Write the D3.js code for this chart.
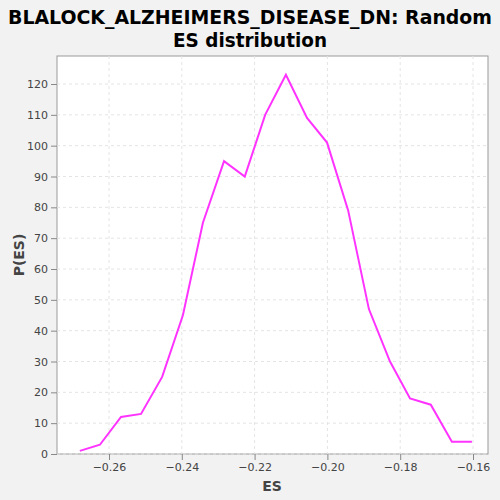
<!DOCTYPE html>
<html><head><meta charset="utf-8">
<script src="https://cdn.jsdelivr.net/npm/d3@7"></script>
<style>body{margin:0;background:#f2f2f2}</style></head>
<body><svg id="c" width="500" height="500"></svg>
<script>
const esValues=[-0.268,-0.2625,-0.2567,-0.2512,-0.2454,-0.2397,-0.2342,-0.2284,-0.2227,-0.2171,-0.2114,-0.2056,-0.2001,-0.1943,-0.1886,-0.1828,-0.1773,-0.1716,-0.1658,-0.1603];
const pValues=[1,3,12,13,25,45,75,95,90,110,123,109,101,79,47,30,18,16,4,4];
const xTicks=[-0.26,-0.24,-0.22,-0.20,-0.18,-0.16];
const yTicks=[0,10,20,30,40,50,60,70,80,90,100,110,120];
const svg=d3.select("#c");
const L=57,R=488,T=56,B=454;
const x=d3.scaleLinear().domain([-0.26,-0.16]).range([109,473]);
const y=d3.scaleLinear().domain([0,120]).range([454,84]);
svg.append("rect").attr("x",L).attr("y",T).attr("width",R-L).attr("height",B-T).attr("fill","#fff").attr("stroke","#999");
const g=svg.append("g");
xTicks.forEach(t=>g.append("line").attr("x1",x(t)).attr("x2",x(t)).attr("y1",T).attr("y2",B).attr("stroke","#e4e4e4").attr("stroke-dasharray","3,3"));
yTicks.forEach(t=>g.append("line").attr("x1",L).attr("x2",R).attr("y1",y(t)).attr("y2",y(t)).attr("stroke","#e4e4e4").attr("stroke-dasharray","3,3"));
svg.append("g").attr("transform",`translate(0,${B})`).call(d3.axisBottom(x).tickValues(xTicks).tickFormat(d3.format(".2f")).tickSizeOuter(0))
 .call(a=>{a.select(".domain").remove();a.selectAll("text").attr("font-size",11).attr("font-family","DejaVu Sans").attr("fill","#444");a.selectAll("line").attr("stroke","#888");});
svg.append("g").attr("transform",`translate(${L},0)`).call(d3.axisLeft(y).tickValues(yTicks).tickSizeOuter(0))
 .call(a=>{a.select(".domain").remove();a.selectAll("text").attr("font-size",11).attr("font-family","DejaVu Sans").attr("fill","#444");a.selectAll("line").attr("stroke","#888");});
svg.append("path").datum(esValues.map((e,i)=>[e,pValues[i]])).attr("fill","none").attr("stroke","#ff33ff").attr("stroke-width",2)
 .attr("d",d3.line().x(d=>x(d[0])).y(d=>y(d[1])));
const tt=svg.append("text").attr("text-anchor","middle").attr("font-family","DejaVu Sans").attr("font-weight","bold").attr("font-size",20);
tt.append("tspan").attr("x",250).attr("y",24).attr("textLength",484).attr("lengthAdjust","spacingAndGlyphs").text("BLALOCK_ALZHEIMERS_DISEASE_DN: Random");
tt.append("tspan").attr("x",250).attr("y",47).attr("textLength",154).attr("lengthAdjust","spacingAndGlyphs").text("ES distribution");
svg.append("text").attr("x",272).attr("y",491).attr("text-anchor","middle").attr("font-family","DejaVu Sans").attr("font-weight","bold").attr("font-size",14).attr("fill","#444").text("ES");
svg.append("text").attr("transform","translate(24,255) rotate(-90)").attr("text-anchor","middle").attr("font-family","DejaVu Sans").attr("font-weight","bold").attr("font-size",14).attr("fill","#444").text("P(ES)");
</script></body></html>
